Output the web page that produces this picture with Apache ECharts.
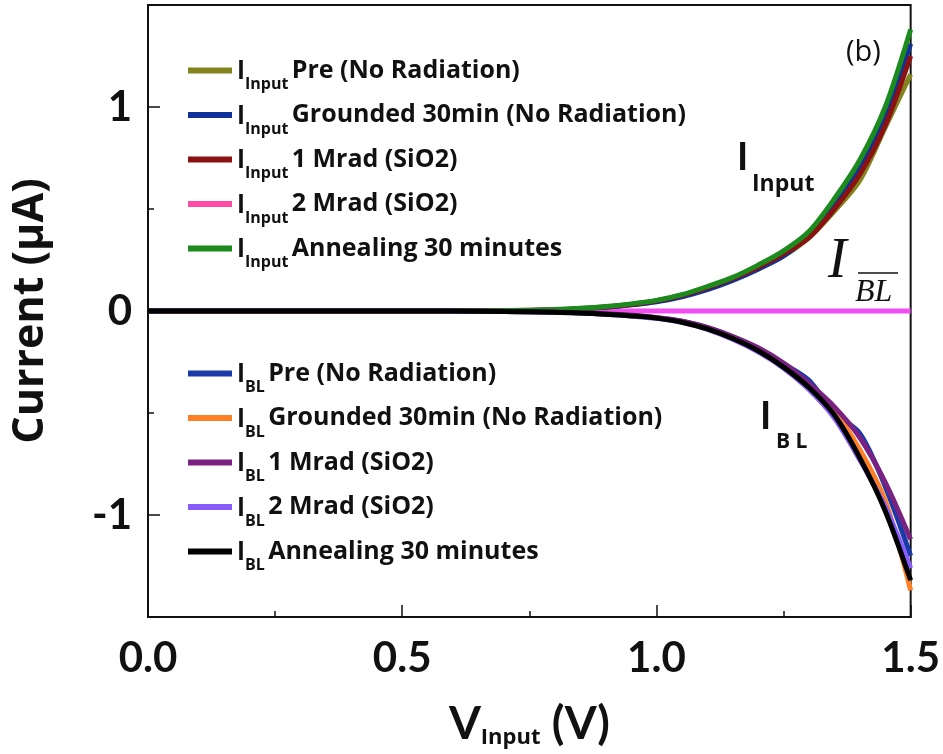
<!DOCTYPE html>
<html>
<head>
<meta charset="utf-8">
<script src="https://cdn.jsdelivr.net/npm/echarts@6/dist/echarts.min.js"></script>
<style>
  html, body { margin: 0; padding: 0; background: #fff; }
  #chart { width: 943px; height: 754px; }
</style>
</head>
<body>
<div id="chart"></div>
<script>
// 电压 (V)
var voltage = [0, 0.1, 0.2, 0.3, 0.4, 0.5, 0.6, 0.7, 0.8, 0.85, 0.9, 0.95, 1.0, 1.05, 1.1, 1.15, 1.2, 1.25, 1.3, 1.35, 1.4, 1.45, 1.5];

// I_Input 曲线 (μA)
var inputPre       = [0, 0, 0, 0, 0, 0, 0, 0.001, 0.005, 0.011, 0.019, 0.031, 0.048, 0.074, 0.112, 0.157, 0.21, 0.27, 0.36, 0.49, 0.64, 0.9, 1.16];
var inputGrounded  = [0, 0, 0, 0, 0, 0, 0, 0.001, 0.005, 0.010, 0.018, 0.030, 0.045, 0.070, 0.105, 0.150, 0.205, 0.27, 0.37, 0.52, 0.70, 0.95, 1.31];
var input1Mrad     = [0, 0, 0, 0, 0, 0, 0, 0.002, 0.006, 0.012, 0.020, 0.032, 0.050, 0.077, 0.115, 0.160, 0.215, 0.28, 0.36, 0.50, 0.67, 0.91, 1.25];
var input2Mrad     = [0, 0, 0, 0, 0, 0, 0, 0, 0, 0, 0, 0, 0, 0, 0, 0, 0, 0, 0, 0, 0, 0, 0];
var inputAnneal    = [0, 0, 0, 0, 0, 0, 0, 0.002, 0.007, 0.013, 0.022, 0.035, 0.052, 0.080, 0.120, 0.165, 0.225, 0.295, 0.39, 0.55, 0.74, 1.0, 1.38];

// I_BL 曲线 (μA)
var blPre          = [0, 0, 0, 0, 0, 0, 0, -0.002, -0.005, -0.009, -0.015, -0.022, -0.034, -0.050, -0.082, -0.126, -0.183, -0.258, -0.34, -0.50, -0.60, -0.86, -1.2];
var blGrounded     = [0, 0, 0, 0, 0, 0, 0, -0.002, -0.005, -0.009, -0.015, -0.022, -0.033, -0.052, -0.083, -0.128, -0.185, -0.26, -0.36, -0.49, -0.68, -0.93, -1.37];
var bl1Mrad        = [0, 0, 0, 0, 0, 0, 0, -0.002, -0.005, -0.009, -0.014, -0.021, -0.032, -0.050, -0.080, -0.125, -0.180, -0.255, -0.355, -0.47, -0.62, -0.84, -1.12];
var bl2Mrad        = [0, 0, 0, 0, 0, 0, 0, -0.002, -0.006, -0.010, -0.016, -0.024, -0.036, -0.056, -0.090, -0.138, -0.200, -0.28, -0.385, -0.525, -0.73, -0.96, -1.26];
var blAnneal       = [0, 0, 0, 0, 0, 0, 0, -0.002, -0.006, -0.010, -0.016, -0.024, -0.035, -0.055, -0.088, -0.135, -0.195, -0.275, -0.375, -0.51, -0.72, -0.98, -1.32];

var conditionNames = ['Pre (No Radiation)', 'Grounded 30min (No Radiation)', '1 Mrad (SiO2)', '2 Mrad (SiO2)', 'Annealing 30 minutes'];

(function () {
  var myChart = echarts.init(document.getElementById('chart'));
  var FONT = 'Lato';
  var LFONT = 'Open Sans';

  function pairs(ys) {
    return voltage.map(function (v, i) { return [v, ys[i]]; });
  }

  function mkLine(name, ys, color, z, lineColor) {
    return {
      name: name,
      type: 'line',
      data: pairs(ys),
      smooth: 0.3,
      showSymbol: false,
      z: z,
      itemStyle: { color: color },
      lineStyle: { width: 5, color: lineColor || color }
    };
  }

  var inKeys = ['in_pre', 'in_gnd', 'in_1m', 'in_2m', 'in_ann'];
  var blKeys = ['bl_pre', 'bl_gnd', 'bl_1m', 'bl_2m', 'bl_ann'];
  var inColors = ['#84841e', '#10309a', '#8a1212', '#ff4aa6', '#1c8a1c'];
  var blColors = ['#1a3aa8', '#ff8024', '#7a2282', '#8a5cff', '#000000'];

  // 2 Mrad 输入电流贴在 0 上，放在最底层
  var series = [
    mkLine('in_pre', inputPre, inColors[0], 2),
    mkLine('in_gnd', inputGrounded, inColors[1], 3),
    mkLine('in_1m', input1Mrad, inColors[2], 4),
    mkLine('in_2m', input2Mrad, inColors[3], 1, '#f04ef0'),
    mkLine('in_ann', inputAnneal, inColors[4], 6),
    mkLine('bl_pre', blPre, blColors[0], 2),
    mkLine('bl_gnd', blGrounded, blColors[1], 3),
    mkLine('bl_1m', bl1Mrad, blColors[2], 7),
    mkLine('bl_2m', bl2Mrad, blColors[3], 4),
    mkLine('bl_ann', blAnneal, blColors[4], 8)
  ];

  var legendRich = {
    i: { fontFamily: FONT, fontWeight: 'bold', fontSize: 27, color: '#111', lineHeight: 44 },
    s: { fontFamily: LFONT, fontWeight: 'bold', fontSize: 16, color: '#111', lineHeight: 12, verticalAlign: 'bottom' },
    t: { fontFamily: LFONT, fontWeight: 'bold', fontSize: 25, color: '#111', lineHeight: 44 }
  };

  function legendBox(keys, colors, sub, top) {
    return {
      orient: 'vertical',
      left: 188,
      top: top,
      padding: 0,
      icon: 'rect',
      itemWidth: 44,
      itemHeight: 6,
      itemGap: 9,
      data: keys.map(function (k, i) { return { name: k, itemStyle: { color: colors[i] } }; }),
      formatter: function (name) {
        var idx = keys.indexOf(name);
        return '{i|I}{s|' + sub + '} {t|' + conditionNames[idx] + '}';
      },
      textStyle: { rich: legendRich },
      selectedMode: false
    };
  }

  function txt(left, top, text, font, size, weight, style) {
    return {
      type: 'text', left: left, top: top, z: 50,
      style: { text: text, fontFamily: font, fontSize: size, fontWeight: weight || 'normal', fontStyle: style || 'normal', fill: '#111' }
    };
  }

  var option = {
    animation: false,
    grid: {
      left: 148,
      right: 31,
      top: 5,
      bottom: 136,
      show: true,
      borderColor: '#111',
      borderWidth: 2
    },
    legend: [
      legendBox(inKeys, inColors, 'Input', 57),
      legendBox(blKeys, blColors, 'BL', 360)
    ],
    xAxis: {
      type: 'value',
      min: 0,
      max: 1.5,
      interval: 0.5,
      name: '{v|V}{s|Input}{v| (V)}',
      nameLocation: 'middle',
      nameGap: 82,
      nameTextStyle: {
        rich: {
          v: { fontFamily: FONT, fontWeight: 'bold', fontSize: 46, color: '#111', lineHeight: 50 },
          s: { fontFamily: LFONT, fontWeight: 'bold', fontSize: 22, color: '#111', lineHeight: 2, verticalAlign: 'bottom' }
        }
      },
      axisLine: { show: true, onZero: false, lineStyle: { color: '#111', width: 2 } },
      axisTick: { inside: true, length: 12, lineStyle: { color: '#111', width: 1.5 } },
      minorTick: { show: true, splitNumber: 2, length: 6, lineStyle: { color: '#111', width: 1.5 } },
      splitLine: { show: false },
      axisLabel: {
        margin: 20,
        fontFamily: FONT,
        fontWeight: 'bold',
        fontSize: 42,
        color: '#111',
        formatter: function (v) { return v.toFixed(1); }
      }
    },
    yAxis: {
      type: 'value',
      min: -1.5,
      max: 1.5,
      splitNumber: 3,
      name: 'Current (μA)',
      nameLocation: 'middle',
      nameGap: 96,
      nameTextStyle: { fontFamily: LFONT, fontWeight: 'bold', fontSize: 43, color: '#111' },
      axisLine: { show: true, onZero: false, lineStyle: { color: '#111', width: 2 } },
      axisTick: { inside: true, length: 12, lineStyle: { color: '#111', width: 1.5 } },
      minorTick: { show: true, splitNumber: 2, length: 6, lineStyle: { color: '#111', width: 1.5 } },
      splitLine: { show: false },
      axisLabel: {
        margin: 16,
        fontFamily: FONT,
        fontWeight: 'bold',
        fontSize: 42,
        color: '#111',
        formatter: function (v) { return Math.abs(v) === 1.5 ? '' : String(v); }
      }
    },
    graphic: [
      txt(846, 38, '(b)', LFONT, 29),
      txt(737, 139, 'I', FONT, 38, 'bold'),
      txt(752, 173, 'Input', LFONT, 23, 'bold'),
      txt(760, 398, 'I', FONT, 38, 'bold'),
      txt(776, 432, 'B L', LFONT, 21, 'bold'),
      txt(828, 234, 'I', 'Liberation Serif', 56, 'normal', 'italic'),
      txt(855, 277, 'BL', 'Liberation Serif', 32, 'normal', 'italic'),
      {
        type: 'line', z: 50,
        shape: { x1: 858, y1: 273, x2: 898, y2: 273 },
        style: { stroke: '#111', lineWidth: 1.5 }
      }
    ],
    series: series
  };

  myChart.setOption(option);
  window.addEventListener('resize', function () {
    myChart.resize();
  });
})();
</script>
</body>
</html>
